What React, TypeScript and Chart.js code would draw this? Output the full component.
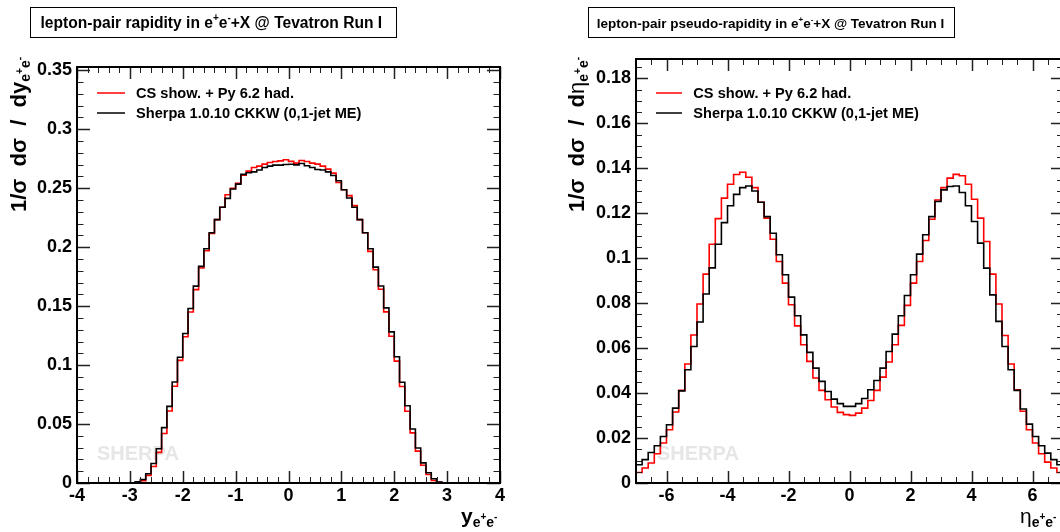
import React, { useEffect, useRef } from "react";
import { Chart, registerables } from "chart.js";

Chart.register(...registerables);

const FONT = '"Liberation Sans", Arial, Helvetica, sans-serif';

// ---------------- data ----------------
const seriesLabels = ["CS show. + Py 6.2 had.", "Sherpa 1.0.10 CKKW (0,1-jet ME)"];
const seriesColors = ["#ff0000", "#000000"];

// lepton-pair rapidity, bins of 0.1 starting at -2.9
const rapidityBinLow = -2.9;
const rapidityBinWidth = 0.1;
const rapidityCS = [
  0.0005, 0.002, 0.0065, 0.014, 0.026, 0.042, 0.061, 0.082, 0.104, 0.124, 0.145, 0.164,
  0.1823, 0.197, 0.2116, 0.2234, 0.2338, 0.2445, 0.2499, 0.2541, 0.261, 0.2645, 0.2676, 0.2687,
  0.2704, 0.2718, 0.2726, 0.2732, 0.2741, 0.2728, 0.2713, 0.2735, 0.2726, 0.2713, 0.2704, 0.2687,
  0.2662, 0.2628, 0.2549, 0.2487, 0.2437, 0.2352, 0.2234, 0.2122, 0.1964, 0.1809,
  0.1643, 0.1451, 0.1245, 0.1034, 0.0818, 0.0608, 0.0425, 0.027, 0.015, 0.0072, 0.0021, 0.0005,
];
const rapiditySherpa = [
  0.001, 0.003, 0.0078, 0.0165, 0.029, 0.047, 0.065, 0.0857, 0.1066, 0.1268, 0.148, 0.167,
  0.1837, 0.1986, 0.2122, 0.2234, 0.2338, 0.2414, 0.2493, 0.2535, 0.2617, 0.2631, 0.2639, 0.2654,
  0.2676, 0.2687, 0.2696, 0.2696, 0.2701, 0.2703, 0.2698, 0.271, 0.269, 0.2676, 0.2659, 0.2654,
  0.2639, 0.2608, 0.2563, 0.2487, 0.2417, 0.2338, 0.2234, 0.2122, 0.1986, 0.1831,
  0.1671, 0.1485, 0.1282, 0.1071, 0.0855, 0.0655, 0.0458, 0.0297, 0.0171, 0.0087, 0.0036, 0.0008,
];
const rapidityXTicks = [-4, -3, -2, -1, 0, 1, 2, 3, 4];
const rapidityYTicks = [0, 0.05, 0.1, 0.15, 0.2, 0.25, 0.3, 0.35];

// lepton-pair pseudo-rapidity, bins of 0.2 starting at -7
const pseudoBinLow = -7;
const pseudoBinWidth = 0.2;
const pseudoCS = [
  0.0047, 0.0067, 0.0089, 0.013, 0.0178, 0.0237, 0.0316, 0.0412, 0.0529, 0.0658,
  0.0796, 0.0929, 0.1062, 0.1176, 0.1267, 0.1329, 0.1372, 0.1382, 0.136, 0.1314,
  0.1249, 0.1178, 0.1084, 0.0985, 0.0889, 0.0793, 0.0699, 0.0615, 0.0541, 0.0467,
  0.0412, 0.037, 0.0338, 0.0314, 0.0304, 0.0301, 0.0311, 0.0333, 0.0367, 0.0412,
  0.0471, 0.0538, 0.0615, 0.0701, 0.079, 0.0889, 0.0985, 0.1079, 0.1173, 0.1259,
  0.1314, 0.1356, 0.1373, 0.1367, 0.1329, 0.1262, 0.1178, 0.1074, 0.0929, 0.0796,
  0.0656, 0.0529, 0.0415, 0.0319, 0.0237, 0.0178, 0.013, 0.0093, 0.0067, 0.0047,
];
const pseudoSherpa = [
  0.0081, 0.0104, 0.0136, 0.0166, 0.0207, 0.0259, 0.0333, 0.041, 0.0504, 0.0607,
  0.0716, 0.0841, 0.0957, 0.1062, 0.1158, 0.1233, 0.1284, 0.1314, 0.1321, 0.1299,
  0.1249, 0.1185, 0.1111, 0.1015, 0.0926, 0.0827, 0.0744, 0.0659, 0.0581, 0.0511,
  0.0452, 0.0407, 0.0373, 0.0353, 0.0341, 0.0341, 0.0353, 0.0376, 0.0415, 0.0456,
  0.0511, 0.0585, 0.0662, 0.0744, 0.0834, 0.0926, 0.1018, 0.1104, 0.1185, 0.1252,
  0.1304, 0.1319, 0.1321, 0.1292, 0.1233, 0.1163, 0.1067, 0.0956, 0.0837, 0.0719,
  0.0607, 0.0504, 0.0412, 0.0329, 0.0262, 0.0207, 0.0166, 0.0133, 0.0104, 0.0081,
];
const pseudoXTicks = [-6, -4, -2, 0, 2, 4, 6];
const pseudoYTicks = [0, 0.02, 0.04, 0.06, 0.08, 0.1, 0.12, 0.14, 0.16, 0.18];

// ---------------- helpers ----------------
type Part = { t: string; size: number; bold?: boolean; dy?: number };

function setFont(ctx: CanvasRenderingContext2D, p: Part) {
  ctx.font = `${p.bold === false ? "normal" : "bold"} ${p.size}px ${FONT}`;
}
function measureParts(ctx: CanvasRenderingContext2D, parts: Part[]) {
  let w = 0;
  for (const p of parts) {
    setFont(ctx, p);
    w += ctx.measureText(p.t).width;
  }
  return w;
}
function drawParts(ctx: CanvasRenderingContext2D, parts: Part[], x: number, y: number) {
  let cx = x;
  for (const p of parts) {
    setFont(ctx, p);
    ctx.fillText(p.t, cx, y + (p.dy || 0));
    cx += ctx.measureText(p.t).width;
  }
}

function histPoints(low: number, width: number, values: number[]) {
  const pts = [{ x: low, y: 0 }];
  values.forEach((v, i) => pts.push({ x: low + i * width, y: v }));
  pts.push({ x: low + values.length * width, y: 0 });
  return pts;
}

const fmt = (v: number) => String(Number(Number(v).toFixed(4)));

type Panel = {
  W: number;
  H: number;
  area: { left: number; right: number; top: number; bottom: number };
  xMin: number;
  xMax: number;
  yMax: number;
  xTicks: number[];
  yTicks: number[];
  xMinor: number;
  xMajor: number;
  yMinor: number;
  yMajor: number;
  tickX: [number, number];
  tickY: [number, number];
  binLow: number;
  binWidth: number;
  cs: number[];
  sherpa: number[];
  titleBox: [number, number, number, number];
  titleText: Part[];
  titleX: number;
  titleY: number;
  legLine: [number, number];
  legTextX: number;
  legY: [number, number];
  watermarkX: number;
  yTitleBase: number;
  yTitleTop: number;
  yTitle: Part[];
  xTitle: Part[];
  xTitleX: number;
  xTitleY: number;
};

function titleParts(text1: string, size: number): Part[] {
  const sup = Math.round(size * 0.62);
  return [
    { t: text1, size },
    { t: "+", size: sup, dy: -size * 0.42 },
    { t: "e", size },
    { t: "-", size: sup, dy: -size * 0.42 },
    { t: "+X @ Tevatron Run I", size },
  ];
}

function axisVarParts(main: string, mainBold: boolean, size: number): Part[] {
  return [
    { t: main, size, bold: mainBold },
    { t: "e", size: 14, dy: 4 },
    { t: "+", size: 10, dy: -3 },
    { t: "e", size: 14, dy: 4 },
    { t: "-", size: 10, dy: -3 },
  ];
}

function yTitleParts(v: string, vBold: boolean): Part[] {
  return [
    { t: "1/σ  dσ  /  d", size: 22 },
    ...axisVarParts(v, vBold, 22),
  ];
}

const leftPanel: Panel = {
  W: 530,
  H: 532,
  area: { left: 77, right: 500, top: 67, bottom: 483 },
  xMin: -4,
  xMax: 4,
  yMax: 0.3528,
  xTicks: rapidityXTicks,
  yTicks: rapidityYTicks,
  xMinor: 0.2,
  xMajor: 1,
  yMinor: 0.01,
  yMajor: 0.05,
  tickX: [12, 6],
  tickY: [13, 6.5],
  binLow: rapidityBinLow,
  binWidth: rapidityBinWidth,
  cs: rapidityCS,
  sherpa: rapiditySherpa,
  titleBox: [30.5, 7.5, 366, 30],
  titleText: titleParts("lepton-pair rapidity in e", 15.6),
  titleX: 40.5,
  titleY: 28,
  legLine: [97, 125],
  legTextX: 136,
  legY: [93, 113],
  watermarkX: 97,
  yTitleBase: 26,
  yTitleTop: 57,
  yTitle: yTitleParts("y", true),
  xTitle: axisVarParts("y", true, 21),
  xTitleX: 461,
  xTitleY: 523,
};

const rightPanel: Panel = {
  W: 540,
  H: 532,
  area: { left: 106, right: 533, top: 59, bottom: 483 },
  xMin: -7,
  xMax: 7,
  yMax: 0.1886,
  xTicks: pseudoXTicks,
  yTicks: pseudoYTicks,
  xMinor: 0.5,
  xMajor: 2,
  yMinor: 0.005,
  yMajor: 0.02,
  tickX: [12, 6],
  tickY: [12, 6],
  binLow: pseudoBinLow,
  binWidth: pseudoBinWidth,
  cs: pseudoCS,
  sherpa: pseudoSherpa,
  titleBox: [58.5, 7.5, 366, 30],
  titleText: titleParts("lepton-pair pseudo-rapidity in e", 13.5),
  titleX: 66.7,
  titleY: 28,
  legLine: [126, 152],
  legTextX: 163.3,
  legY: [93, 113],
  watermarkX: 127,
  yTitleBase: 54,
  yTitleTop: 57,
  yTitle: yTitleParts("η", false),
  xTitle: axisVarParts("η", false, 21),
  xTitleX: 490,
  xTitleY: 523,
};

function rootPlugin(p: Panel) {
  return {
    id: "rootStyle",
    beforeDatasetsDraw(chart: any) {
      const ctx: CanvasRenderingContext2D = chart.ctx;
      ctx.save();
      ctx.font = `bold 20px ${FONT}`;
      ctx.fillStyle = "#e6e6e6";
      ctx.textBaseline = "alphabetic";
      ctx.textAlign = "left";
      ctx.fillText("SHERPA", p.watermarkX, 460);
      ctx.restore();
    },
    afterDatasetsDraw(chart: any) {
      const ctx: CanvasRenderingContext2D = chart.ctx;
      const a = chart.chartArea;
      const xs = chart.scales.x;
      const ys = chart.scales.y;
      ctx.save();
      ctx.strokeStyle = "#222";
      const kx0 = Math.ceil(p.xMin / p.xMinor - 1e-9);
      const kx1 = Math.floor(p.xMax / p.xMinor + 1e-9);
      for (let k = kx0; k <= kx1; k++) {
        const v = k * p.xMinor;
        const r = v / p.xMajor;
        const major = Math.abs(r - Math.round(r)) < 1e-6;
        const len = major ? p.tickX[0] : p.tickX[1];
        const px = Math.round(xs.getPixelForValue(v)) + 0.5;
        ctx.lineWidth = major ? 1.5 : 1;
        ctx.beginPath();
        ctx.moveTo(px, a.bottom);
        ctx.lineTo(px, a.bottom - len);
        ctx.moveTo(px, a.top);
        ctx.lineTo(px, a.top + len);
        ctx.stroke();
      }
      const ky1 = Math.floor(p.yMax / p.yMinor + 1e-9);
      for (let k = 0; k <= ky1; k++) {
        const v = k * p.yMinor;
        const r = v / p.yMajor;
        const major = Math.abs(r - Math.round(r)) < 1e-6;
        const len = major ? p.tickY[0] : p.tickY[1];
        const py = Math.round(ys.getPixelForValue(v)) + 0.5;
        ctx.lineWidth = major ? 1.5 : 1;
        ctx.beginPath();
        ctx.moveTo(a.left, py);
        ctx.lineTo(a.left + len, py);
        ctx.moveTo(a.right, py);
        ctx.lineTo(a.right - len, py);
        ctx.stroke();
      }
      ctx.strokeStyle = "#000";
      ctx.lineWidth = 2;
      ctx.strokeRect(a.left, a.top, a.right - a.left, a.bottom - a.top);
      ctx.restore();
    },
    afterDraw(chart: any) {
      const ctx: CanvasRenderingContext2D = chart.ctx;
      ctx.save();
      ctx.textBaseline = "alphabetic";
      ctx.textAlign = "left";
      const [bx, by, bw, bh] = p.titleBox;
      ctx.fillStyle = "#fff";
      ctx.fillRect(bx, by, bw, bh);
      ctx.strokeStyle = "#000";
      ctx.lineWidth = 1;
      ctx.strokeRect(bx, by, bw, bh);
      ctx.fillStyle = "#000";
      drawParts(ctx, p.titleText, p.titleX, p.titleY);
      seriesLabels.forEach((lab, i) => {
        const y = p.legY[i];
        ctx.strokeStyle = seriesColors[i];
        ctx.lineWidth = 1.5;
        ctx.beginPath();
        ctx.moveTo(p.legLine[0], y);
        ctx.lineTo(p.legLine[1], y);
        ctx.stroke();
        ctx.fillStyle = "#000";
        ctx.font = `bold 14.6px ${FONT}`;
        ctx.fillText(lab, p.legTextX, y + 5);
      });
      drawParts(ctx, p.xTitle, p.xTitleX, p.xTitleY);
      const tw = measureParts(ctx, p.yTitle);
      ctx.translate(p.yTitleBase, p.yTitleTop + tw);
      ctx.rotate(-Math.PI / 2);
      drawParts(ctx, p.yTitle, 0, 0);
      ctx.restore();
    },
  };
}

function makeChart(canvas: HTMLCanvasElement, p: Panel) {
  const tickFont = { family: FONT, size: 18, weight: "bold" as const };
  return new Chart(canvas, {
    type: "line",
    data: {
      datasets: [
        {
          label: seriesLabels[0],
          data: histPoints(p.binLow, p.binWidth, p.cs),
          borderColor: seriesColors[0],
          borderWidth: 1.6,
          stepped: "before",
          pointRadius: 0,
          fill: false,
          order: 2,
        },
        {
          label: seriesLabels[1],
          data: histPoints(p.binLow, p.binWidth, p.sherpa),
          borderColor: seriesColors[1],
          borderWidth: 1.6,
          stepped: "before",
          pointRadius: 0,
          fill: false,
          order: 1,
        },
      ],
    },
    options: {
      animation: false,
      responsive: false,
      maintainAspectRatio: false,
      events: [],
      layout: { padding: { left: 0, top: p.area.top, right: p.W - p.area.right, bottom: 0 } },
      plugins: { legend: { display: false }, tooltip: { enabled: false }, title: { display: false } },
      scales: {
        x: {
          type: "linear",
          min: p.xMin,
          max: p.xMax,
          grid: { display: false, drawTicks: false },
          border: { display: false },
          afterBuildTicks: (s: any) => {
            s.ticks = p.xTicks.map((v) => ({ value: v }));
          },
          afterFit: (s: any) => {
            s.height = p.H - p.area.bottom;
          },
          ticks: {
            font: tickFont,
            color: "#000",
            padding: 2,
            maxRotation: 0,
            autoSkip: false,
            callback: (v: any) => fmt(v),
          },
        },
        y: {
          type: "linear",
          min: 0,
          max: p.yMax,
          grid: { display: false, drawTicks: false },
          border: { display: false },
          afterBuildTicks: (s: any) => {
            s.ticks = p.yTicks.map((v) => ({ value: v }));
          },
          afterFit: (s: any) => {
            s.width = p.area.left;
          },
          ticks: {
            font: tickFont,
            color: "#000",
            padding: 5,
            autoSkip: false,
            callback: (v: any) => fmt(v),
          },
        },
      },
    } as any,
    plugins: [rootPlugin(p)],
  });
}

export default function App() {
  const leftRef = useRef<HTMLCanvasElement>(null);
  const rightRef = useRef<HTMLCanvasElement>(null);
  useEffect(() => {
    const c1 = makeChart(leftRef.current!, leftPanel);
    const c2 = makeChart(rightRef.current!, rightPanel);
    return () => {
      c1.destroy();
      c2.destroy();
    };
  }, []);
  return (
    <div
      style={{
        position: "absolute",
        left: 0,
        top: 0,
        width: 1060,
        height: 532,
        overflow: "hidden",
        background: "#fff",
      }}
    >
      <canvas
        ref={leftRef}
        width={leftPanel.W}
        height={leftPanel.H}
        style={{ position: "absolute", left: 0, top: 0, width: leftPanel.W, height: leftPanel.H }}
      />
      <canvas
        ref={rightRef}
        width={rightPanel.W}
        height={rightPanel.H}
        style={{ position: "absolute", left: 530, top: 0, width: rightPanel.W, height: rightPanel.H }}
      />
    </div>
  );
}
